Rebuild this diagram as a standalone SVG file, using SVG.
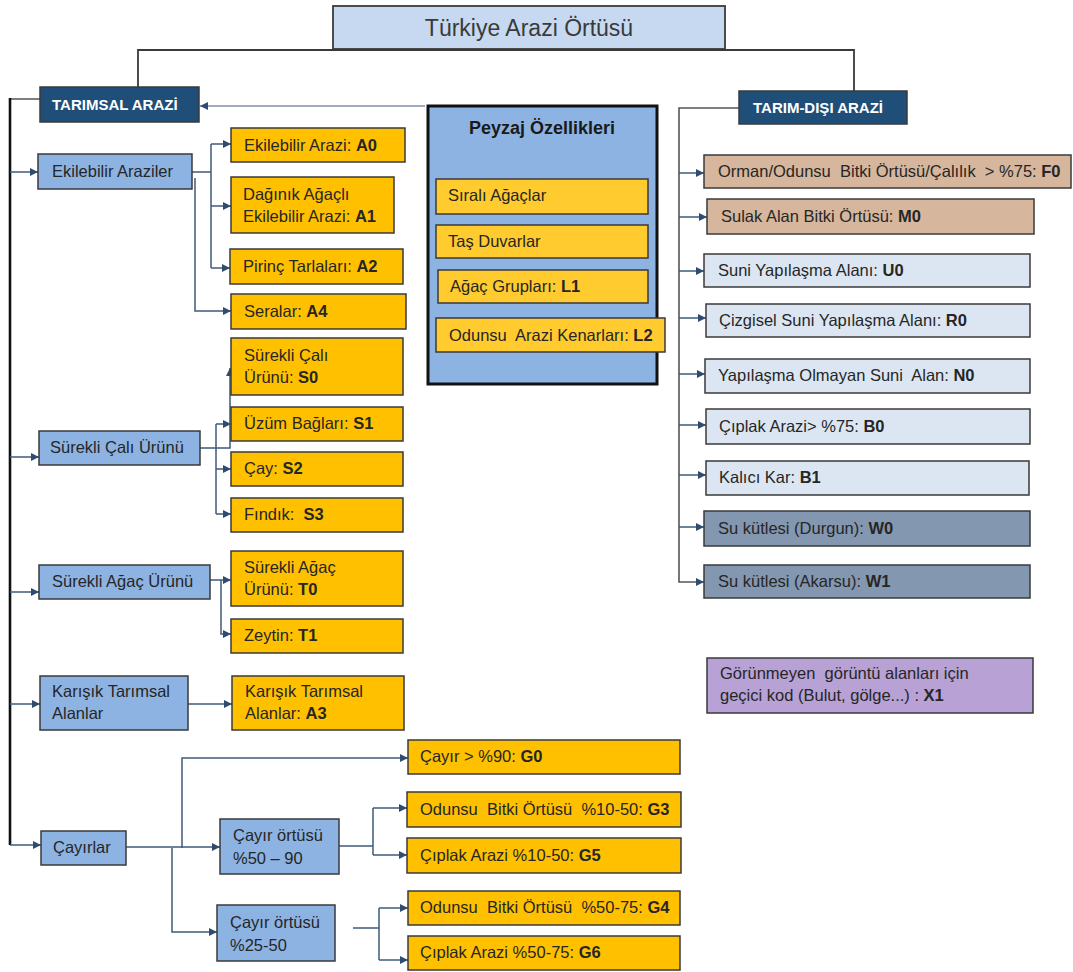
<svg xmlns="http://www.w3.org/2000/svg" width="1073" height="972" viewBox="0 0 1073 972">
<style>
text{font-family:"Liberation Sans",Arial,sans-serif;font-size:16.5px;fill:#262626;white-space:pre}
.b{font-weight:bold}
.box{stroke:#3a3a3a;stroke-width:1.5}
.hdr{fill:#1f4e79}
.cat{fill:#8db3e2}
.yel{fill:#ffc000}
.pyel{fill:#ffcb2f}
.tan{fill:#d6b69c}
.lt{fill:#dce6f2}
.wat{fill:#8497b0}
.pur{fill:#b7a1d5}
.ht{fill:#fff;font-weight:bold;font-size:15px}
.c{fill:none;stroke:#3f5a7c;stroke-width:1.5}
.a{fill:none;stroke:#3f5a7c;stroke-width:1.5;marker-end:url(#ah)}
</style>
<defs>
<marker id="ah" viewBox="0 0 10 10" refX="10" refY="5" markerWidth="9" markerHeight="8" markerUnits="userSpaceOnUse" orient="auto"><path d="M0,0 L10,5 L0,10 z" fill="#2f4c70"/></marker>
</defs>
<rect width="1073" height="972" fill="#fff"/>

<g id="connectors">
<path d="M138,87 V50 H854 V91" fill="none" stroke="#3a3a3a" stroke-width="1.8"/>
<path d="M40,99 H10" fill="none" stroke="#555" stroke-width="1.5"/>
<path d="M10,98 V845" fill="none" stroke="#111" stroke-width="2.6"/>
<path class="a" d="M10,172 H38"/>
<path class="a" d="M10,457 H39"/>
<path class="a" d="M10,592 H39"/>
<path class="a" d="M10,704 H40"/>
<path class="a" d="M10,845 H41"/>
<path d="M425,106 H200" fill="none" stroke="#7f90a8" stroke-width="1.5" marker-end="url(#ah)"/>
<path class="c" d="M192,172 H211 M211,144 V268"/>
<path class="a" d="M211,144 H231"/>
<path class="a" d="M211,206 H231"/>
<path class="a" d="M211,268 H230"/>
<path class="a" d="M195,178 V311 H231"/>
<path class="a" d="M200,448 H230 V368"/>
<path class="c" d="M216,424 V514"/>
<path class="a" d="M216,424 H231"/>
<path class="a" d="M216,469 H231"/>
<path class="a" d="M216,514 H231"/>
<path class="a" d="M210,580 H231"/>
<path class="a" d="M221,580 V634 H231"/>
<path class="a" d="M188,704 H232"/>
<path class="a" d="M126,847 H220"/>
<path class="a" d="M182,848 V758 H408"/>
<path class="a" d="M172,848 V932 H217"/>
<path class="c" d="M339,846 H373 M373,808 V855"/>
<path class="a" d="M373,808 H407"/>
<path class="a" d="M373,855 H407"/>
<path class="c" d="M353,928 H379 M379,908 V960"/>
<path class="a" d="M379,908 H408"/>
<path class="a" d="M379,960 H408"/>
<path d="M739,108 H679 V582 H704" fill="none" stroke="#555" stroke-width="1.6" marker-end="url(#ah)"/>
<path class="a" d="M679,173 H704"/>
<path class="a" d="M679,217 H707"/>
<path class="a" d="M679,271 H704"/>
<path class="a" d="M679,318 H706"/>
<path class="a" d="M679,374 H705"/>
<path class="a" d="M679,425 H706"/>
<path class="a" d="M679,475 H706"/>
<path class="a" d="M679,527 H704"/>
</g>

<g id="title"><rect x="333" y="6" width="392" height="43" fill="#c6d9f1" stroke="#3a3a3a" stroke-width="1.8"/><text x="529" y="36" text-anchor="middle" style="font-size:23px;fill:#3a3a3a">Türkiye Arazi Örtüsü</text></g>

<g id="tarimsal"><rect class="box hdr" x="40" y="87" width="159" height="35"/><text class="ht" x="52" y="110">TARIMSAL ARAZİ</text></g>
<g id="tarimdisi"><rect class="box hdr" x="739" y="91" width="168" height="33"/><text class="ht" x="753" y="113">TARIM-DIŞI ARAZİ</text></g>

<g id="ekilebilir"><rect class="box cat" x="38" y="154" width="154" height="35"/><text x="52" y="177">Ekilebilir Araziler</text></g>
<g id="surekli-cali"><rect class="box cat" x="39" y="431" width="161" height="34"/><text x="50" y="453">Sürekli Çalı Ürünü</text></g>
<g id="surekli-agac"><rect class="box cat" x="39" y="565" width="171" height="34"/><text x="52" y="587">Sürekli Ağaç Ürünü</text></g>
<g id="karisik"><rect class="box cat" x="40" y="676" width="148" height="54"/><text x="52" y="697">Karışık Tarımsal</text><text x="52" y="719">Alanlar</text></g>
<g id="cayirlar"><rect class="box cat" x="41" y="831" width="85" height="34"/><text x="53" y="853">Çayırlar</text></g>
<g id="cayir-50-90"><rect class="box cat" x="220" y="819" width="119" height="55"/><text x="233" y="841">Çayır örtüsü</text><text x="233" y="864">%50 – 90</text></g>
<g id="cayir-25-50"><rect class="box cat" x="217" y="905" width="118" height="56"/><text x="230" y="928">Çayır örtüsü</text><text x="230" y="951">%25-50</text></g>

<g id="A0"><rect class="box yel" x="231" y="128" width="174" height="34"/><text x="244" y="151">Ekilebilir Arazi: <tspan class="b">A0</tspan></text></g>
<g id="A1"><rect class="box yel" x="231" y="177" width="163" height="56"/><text x="243" y="200">Dağınık Ağaçlı</text><text x="243" y="222">Ekilebilir Arazi: <tspan class="b">A1</tspan></text></g>
<g id="A2"><rect class="box yel" x="230" y="249" width="173" height="35"/><text x="243" y="272">Pirinç Tarlaları: <tspan class="b">A2</tspan></text></g>
<g id="A4"><rect class="box yel" x="231" y="294" width="175" height="35"/><text x="244" y="317">Seralar: <tspan class="b">A4</tspan></text></g>
<g id="S0"><rect class="box yel" x="231" y="338" width="172" height="57"/><text x="244" y="361">Sürekli Çalı</text><text x="244" y="383">Ürünü: <tspan class="b">S0</tspan></text></g>
<g id="S1"><rect class="box yel" x="231" y="407" width="172" height="34"/><text x="244" y="429">Üzüm Bağları: <tspan class="b">S1</tspan></text></g>
<g id="S2"><rect class="box yel" x="231" y="452" width="172" height="34"/><text x="244" y="474">Çay: <tspan class="b">S2</tspan></text></g>
<g id="S3"><rect class="box yel" x="231" y="498" width="172" height="34"/><text x="244" y="520">Fındık:  <tspan class="b">S3</tspan></text></g>
<g id="T0"><rect class="box yel" x="231" y="551" width="172" height="55"/><text x="244" y="573">Sürekli Ağaç</text><text x="244" y="595">Ürünü: <tspan class="b">T0</tspan></text></g>
<g id="T1"><rect class="box yel" x="231" y="619" width="172" height="34"/><text x="244" y="641">Zeytin: <tspan class="b">T1</tspan></text></g>
<g id="A3"><rect class="box yel" x="232" y="676" width="172" height="54"/><text x="245" y="697">Karışık Tarımsal</text><text x="245" y="719">Alanlar: <tspan class="b">A3</tspan></text></g>
<g id="G0"><rect class="box yel" x="408" y="740" width="272" height="34"/><text x="420" y="762">Çayır &gt; %90: <tspan class="b">G0</tspan></text></g>
<g id="G3"><rect class="box yel" x="407" y="792" width="274" height="35"/><text x="420" y="815">Odunsu  Bitki Örtüsü  %10-50: <tspan class="b">G3</tspan></text></g>
<g id="G5"><rect class="box yel" x="407" y="838" width="274" height="35"/><text x="420" y="861">Çıplak Arazi %10-50: <tspan class="b">G5</tspan></text></g>
<g id="G4"><rect class="box yel" x="408" y="891" width="272" height="34"/><text x="420" y="913">Odunsu  Bitki Örtüsü  %50-75: <tspan class="b">G4</tspan></text></g>
<g id="G6"><rect class="box yel" x="408" y="936" width="272" height="34"/><text x="420" y="958">Çıplak Arazi %50-75: <tspan class="b">G6</tspan></text></g>

<g id="peyzaj"><rect x="428" y="106" width="229" height="278" fill="#8db3e2" stroke="#111" stroke-width="3"/><text x="542" y="134" text-anchor="middle" style="font-size:18px;font-weight:bold;fill:#1a1a1a">Peyzaj Özellikleri</text></g>
<g id="sirali"><rect class="box pyel" x="436" y="179" width="212" height="35"/><text x="448" y="201">Sıralı Ağaçlar</text></g>
<g id="tas"><rect class="box pyel" x="436" y="225" width="212" height="33"/><text x="448" y="247">Taş Duvarlar</text></g>
<g id="L1"><rect class="box pyel" x="438" y="270" width="210" height="33"/><text x="450" y="292">Ağaç Grupları: <tspan class="b">L1</tspan></text></g>
<g id="L2"><rect class="box pyel" x="436" y="318" width="229" height="34"/><text x="449" y="341">Odunsu  Arazi Kenarları: <tspan class="b">L2</tspan></text></g>

<g id="F0"><rect class="box tan" x="704" y="155" width="367" height="33"/><text x="718" y="177">Orman/Odunsu  Bitki Örtüsü/Çalılık  &gt; %75: <tspan class="b">F0</tspan></text></g>
<g id="M0"><rect class="box tan" x="707" y="199" width="327" height="35"/><text x="721" y="222">Sulak Alan Bitki Örtüsü: <tspan class="b">M0</tspan></text></g>
<g id="U0"><rect class="box lt" x="704" y="254" width="326" height="33"/><text x="718" y="276">Suni Yapılaşma Alanı: <tspan class="b">U0</tspan></text></g>
<g id="R0"><rect class="box lt" x="706" y="304" width="324" height="33"/><text x="719" y="326">Çizgisel Suni Yapılaşma Alanı: <tspan class="b">R0</tspan></text></g>
<g id="N0"><rect class="box lt" x="705" y="359" width="325" height="34"/><text x="718" y="381">Yapılaşma Olmayan Suni  Alan: <tspan class="b">N0</tspan></text></g>
<g id="B0"><rect class="box lt" x="706" y="409" width="324" height="35"/><text x="719" y="432">Çıplak Arazi&gt; %75: <tspan class="b">B0</tspan></text></g>
<g id="B1"><rect class="box lt" x="706" y="461" width="323" height="34"/><text x="719" y="483">Kalıcı Kar: <tspan class="b">B1</tspan></text></g>
<g id="W0"><rect class="box wat" x="704" y="511" width="326" height="35"/><text x="718" y="534">Su kütlesi (Durgun): <tspan class="b">W0</tspan></text></g>
<g id="W1"><rect class="box wat" x="704" y="565" width="326" height="33"/><text x="718" y="587">Su kütlesi (Akarsu): <tspan class="b">W1</tspan></text></g>
<g id="X1"><rect class="box pur" x="707" y="658" width="326" height="55"/><text x="720" y="679">Görünmeyen  görüntü alanları için</text><text x="720" y="701">geçici kod (Bulut, gölge...) : <tspan class="b">X1</tspan></text></g>
</svg>
